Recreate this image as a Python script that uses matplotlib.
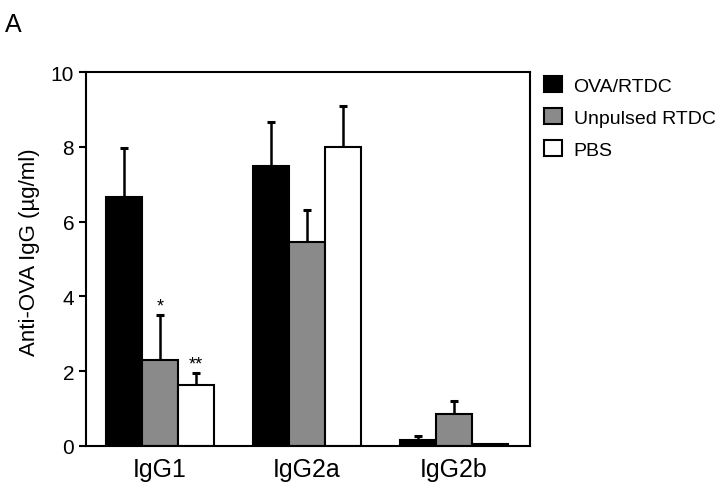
import numpy as np
from matplotlib import pyplot as plt

plt.rcParams['font.family'] = ['Liberation Sans', 'DejaVu Sans']

groups = ['IgG1', 'IgG2a', 'IgG2b']
series = ['OVA/RTDC', 'Unpulsed RTDC', 'PBS']
means = {
    'OVA/RTDC':      [6.65, 7.50, 0.17],
    'Unpulsed RTDC': [2.30, 5.45, 0.85],
    'PBS':           [1.62, 8.00, 0.05],
}
err_up = {
    'OVA/RTDC':      [1.33, 1.17, 0.09],
    'Unpulsed RTDC': [1.20, 0.87, 0.35],
    'PBS':           [0.33, 1.10, 0.0],
}
stars = {('Unpulsed RTDC', 0): '*', ('PBS', 0): '**'}

colors = {'OVA/RTDC': 'black', 'Unpulsed RTDC': '#8a8a8a', 'PBS': 'white'}

fig = plt.figure(figsize=(7.2, 4.89), dpi=100)
ax = fig.add_axes([0.1194, 0.0859, 0.6166, 0.7648])

x = np.arange(len(groups))
w = 0.245
for k, s in enumerate(series):
    pos = x + (k - 1) * w
    ax.bar(pos, means[s], width=w, color=colors[s], edgecolor='black',
           linewidth=1.5, label=s, zorder=2)
    errs = np.array(err_up[s])
    mask = errs > 0
    ax.errorbar(pos[mask], np.array(means[s])[mask],
                yerr=[np.zeros(mask.sum()), errs[mask]],
                fmt='none', ecolor='black', elinewidth=1.8,
                capsize=3, capthick=2.2, zorder=1)
    for i in range(len(groups)):
        if (s, i) in stars:
            ax.text(pos[i], means[s][i] + err_up[s][i] + 0.02, stars[(s, i)],
                    ha='center', va='bottom', fontsize=13)

ax.set_xlim(-0.503, 2.517)
ax.set_ylim(0, 10)
ax.set_yticks([0, 2, 4, 6, 8, 10])
ax.set_xticks(x)
ax.set_xticklabels(groups, fontsize=18)
ax.tick_params(axis='x', length=0, pad=8)
ax.tick_params(axis='y', labelsize=15, length=5, width=1.5, direction='out')
for sp in ax.spines.values():
    sp.set_linewidth(1.5)
ax.set_ylabel('Anti-OVA IgG (µg/ml)', fontsize=16, labelpad=6)
ax.yaxis.set_label_coords(-0.103, 0.52)

ax.legend(loc='upper left', bbox_to_anchor=(1.015, 1.01), frameon=False,
          fontsize=14, handlelength=0.9, handleheight=0.9, handletextpad=0.6,
          labelspacing=0.68, borderaxespad=0)

fig.text(0.007, 0.935, 'A', fontsize=18)

fig.savefig('out.png')
